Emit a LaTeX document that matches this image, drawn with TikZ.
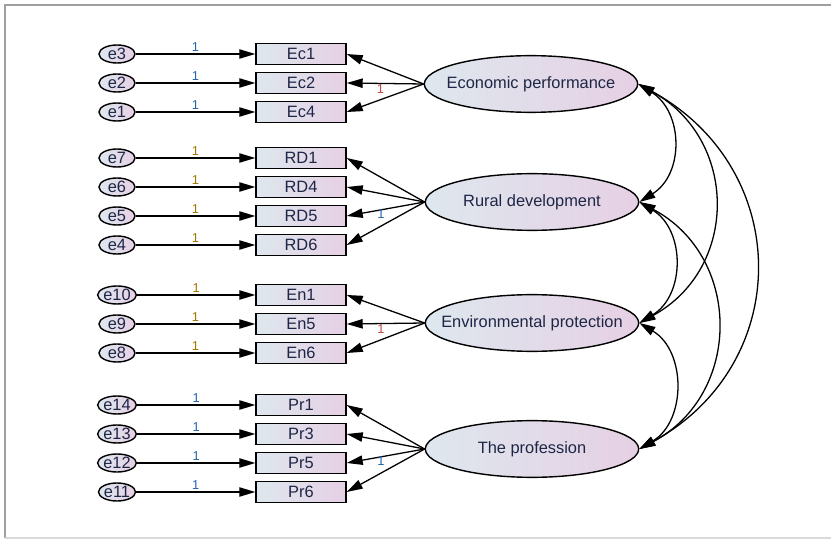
\documentclass[tikz,border=0pt]{standalone}
\usepackage{fontspec}
\setmainfont{Liberation Sans}
\usetikzlibrary{arrows.meta,shapes.geometric}
\definecolor{fillL}{RGB}{222,231,238}
\definecolor{fillR}{RGB}{230,208,228}
\definecolor{txtN}{RGB}{30,38,70}
\definecolor{oneB}{RGB}{35,100,170}
\definecolor{oneO}{RGB}{160,118,0}
\definecolor{oneR}{RGB}{190,70,70}

\begin{document}
\begin{tikzpicture}[x=0.03cm,y=-0.03cm,font=\fontsize{14}{16}\selectfont]
  \tikzset{shd/.style={left color=fillL,right color=fillR,text=txtN},
    errv/.style={shd,ellipse,draw,line width=1.2pt,minimum width=1.08cm,minimum height=0.54cm,inner sep=0pt},
    ind/.style={shd,draw,line width=1.2pt,minimum width=2.7cm,minimum height=0.63cm,inner sep=0pt},
    lat/.style={shd,ellipse,draw,line width=1.2pt,minimum width=6.4cm,minimum height=1.7cm,inner xsep=-1.5cm,inner ysep=0pt},
    pth/.style={-{Triangle[length=4.8mm,width=2.8mm]},line width=1.1pt},
    cov/.style={{Triangle[length=4.8mm,width=2.8mm]}-{Triangle[length=4.8mm,width=2.8mm]},line width=1.1pt},
    one/.style={font=\fontsize{11}{11}\selectfont,text=#1,inner sep=1.5pt}}
  \useasboundingbox (0,0) rectangle (831,540);
  % frame
  \draw[gray!75,line width=1.3pt] (5,538) -- (5,5) -- (831,5);
  \draw[gray!30,line width=1pt] (5,538) -- (831,538);
  % latent variables
  \node[lat] (ep) at (531,84) {Economic performance};
  \node[lat] (rd) at (532,202) {Rural development};
  \node[lat] (envp) at (532,323) {Environmental protection};
  \node[lat] (prof) at (532,449) {The profession};
  % indicators
  \node[ind] (ec1) at (301,54) {Ec1};
  \node[ind] (ec2) at (301,83) {Ec2};
  \node[ind] (ec4) at (301,112) {Ec4};
  \node[ind] (rd1) at (301,158) {RD1};
  \node[ind] (rd4) at (301,187) {RD4};
  \node[ind] (rd5) at (301,216) {RD5};
  \node[ind] (rd6) at (301,245) {RD6};
  \node[ind] (en1) at (301,295) {En1};
  \node[ind] (en5) at (301,324) {En5};
  \node[ind] (en6) at (301,353) {En6};
  \node[ind] (pr1) at (301,405) {Pr1};
  \node[ind] (pr3) at (301,434) {Pr3};
  \node[ind] (pr5) at (301,463) {Pr5};
  \node[ind] (pr6) at (301,492) {Pr6};
  % error terms
  \node[errv] (e3) at (117,54) {e3};
  \node[errv] (e2) at (117,83) {e2};
  \node[errv] (e1) at (117,112) {e1};
  \node[errv] (e7) at (117,158) {e7};
  \node[errv] (e6) at (117,187) {e6};
  \node[errv] (e5) at (117,216) {e5};
  \node[errv] (e4) at (117,245) {e4};
  \node[errv] (e10) at (117,295) {e10};
  \node[errv] (e9) at (117,324) {e9};
  \node[errv] (e8) at (117,353) {e8};
  \node[errv] (e14) at (117,405) {e14};
  \node[errv] (e13) at (117,434) {e13};
  \node[errv] (e12) at (117,463) {e12};
  \node[errv] (e11) at (117,492) {e11};
  % error paths
  \draw[pth] (e3) -- node[one=oneB,above] {1} (ec1);
  \draw[pth] (e2) -- node[one=oneB,above] {1} (ec2);
  \draw[pth] (e1) -- node[one=oneB,above] {1} (ec4);
  \draw[pth] (e7) -- node[one=oneO,above] {1} (rd1);
  \draw[pth] (e6) -- node[one=oneO,above] {1} (rd4);
  \draw[pth] (e5) -- node[one=oneO,above] {1} (rd5);
  \draw[pth] (e4) -- node[one=oneO,above] {1} (rd6);
  \draw[pth] (e10) -- node[one=oneO,above] {1} (en1);
  \draw[pth] (e9) -- node[one=oneO,above] {1} (en5);
  \draw[pth] (e8) -- node[one=oneO,above] {1} (en6);
  \draw[pth] (e14) -- node[one=oneB,above] {1} (pr1);
  \draw[pth] (e13) -- node[one=oneB,above] {1} (pr3);
  \draw[pth] (e12) -- node[one=oneB,above] {1} (pr5);
  \draw[pth] (e11) -- node[one=oneB,above] {1} (pr6);
  % loadings
  \draw[pth] (ep.west) -- (ec1.east);
  \draw[pth] (ep.west) -- node[one=oneR,pos=0.56,yshift=-5pt] {1} (ec2.east);
  \draw[pth] (ep.west) -- (ec4.east);
  \draw[pth] (rd.west) -- (rd1.east);
  \draw[pth] (rd.west) -- (rd4.east);
  \draw[pth] (rd.west) -- node[one=oneB,pos=0.56,yshift=-4pt] {1} (rd5.east);
  \draw[pth] (rd.west) -- (rd6.east);
  \draw[pth] (envp.west) -- (en1.east);
  \draw[pth] (envp.west) -- node[one=oneR,pos=0.56,yshift=-5pt] {1} (en5.east);
  \draw[pth] (envp.west) -- (en6.east);
  \draw[pth] (prof.west) -- (pr1.east);
  \draw[pth] (prof.west) -- (pr3.east);
  \draw[pth] (prof.west) -- node[one=oneB,pos=0.56,yshift=-4pt] {1} (pr5.east);
  \draw[pth] (prof.west) -- (pr6.east);
  % covariances
  \draw[cov] (ep.east) .. controls +(45,28) and +(45,-28) .. (rd.east);
  \draw[cov] (rd.east) .. controls +(46,28) and +(46,-28) .. (envp.east);
  \draw[cov] (envp.east) .. controls +(47,28) and +(47,-28) .. (prof.east);
  \draw[cov] (ep.east) .. controls +(100,55) and +(100,-55) .. (envp.east);
  \draw[cov] (rd.east) .. controls +(103,55) and +(103,-55) .. (prof.east);
  \draw[cov] (ep.east) .. controls +(155,85) and +(155,-85) .. (prof.east);
\end{tikzpicture}
\end{document}
